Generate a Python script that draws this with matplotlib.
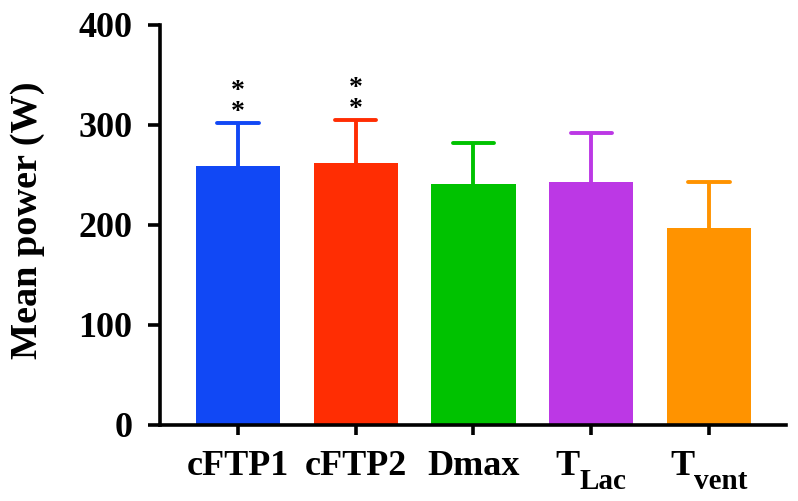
import numpy as np
import matplotlib
matplotlib.use("Agg")
import matplotlib.pyplot as plt

plt.rcParams['font.family'] = ['Liberation Serif', 'DejaVu Serif']
plt.rcParams['font.weight'] = 'bold'

# data
labels = ['cFTP1', 'cFTP2', 'Dmax', 'T', 'T']
sublabels = ['', '', '', 'Lac', 'vent']
means = [259, 262, 241, 243, 197]
sds = [43, 43, 41, 49, 46]
colors = ['#1148F5', '#FF2D03', '#00C200', '#BC38E5', '#FF9300']
signif = ['*\n*', '*\n*', '', '', '']

fig = plt.figure(figsize=(7.98, 5.01), dpi=100)
ax = fig.add_axes([0.2005, 0.1517, 0.7845, 0.7984])

x = np.arange(len(means))
tops = np.array(means) + np.array(sds)
ax.bar(x, means, width=0.715, color=colors, zorder=2)
# one-sided error bars (upper only)
ax.vlines(x, means, tops, colors=colors, linewidth=2.8, zorder=1)
ax.hlines(tops, x - 0.175, x + 0.175, colors=colors, linewidth=2.8,
          capstyle='round', zorder=1)

for xi, top, t in zip(x, tops, signif):
    if t:
        ax.text(xi, top - 2, t, ha='center', va='bottom', fontsize=20,
                linespacing=0.78)

ax.set_xlim(-0.662, 4.654)
ax.set_ylim(0, 400)
ax.set_yticks([0, 100, 200, 300, 400])
ax.set_xticks(x)
ax.set_xticklabels([''] * len(x))
ax.set_ylabel('Mean power (W)', fontsize=27.5, fontweight='bold')
ax.yaxis.set_label_coords(-0.184, 0.512)

for side in ['top', 'right']:
    ax.spines[side].set_visible(False)
for side in ['left', 'bottom']:
    ax.spines[side].set_linewidth(2.6)
ax.tick_params(axis='y', length=9, width=2.6, pad=11, labelsize=26)
ax.tick_params(axis='x', length=7.5, width=2.6)

# x labels drawn by hand so the subscripts can be sized like the original
trans = ax.get_xaxis_transform()
renderer = fig.canvas.get_renderer()
for xi, main, sub in zip(x, labels, sublabels):
    t1 = ax.annotate(main, xy=(xi, 0), xycoords=trans, xytext=(0, -36),
                     textcoords='offset points', ha='left', va='baseline',
                     fontsize=26, annotation_clip=False)
    w1 = t1.get_window_extent(renderer).width * 72 / fig.dpi
    w2 = 0
    t2 = None
    if sub:
        t2 = ax.annotate(sub, xy=(xi, 0), xycoords=trans, xytext=(0, -46),
                         textcoords='offset points', ha='left', va='baseline',
                         fontsize=21, annotation_clip=False)
        w2 = t2.get_window_extent(renderer).width * 72 / fig.dpi
    x0 = -(w1 + w2) / 2
    t1.set_position((x0, -36))
    if t2 is not None:
        t2.set_position((x0 + w1, -46))

fig.savefig('out.png', dpi=100)
